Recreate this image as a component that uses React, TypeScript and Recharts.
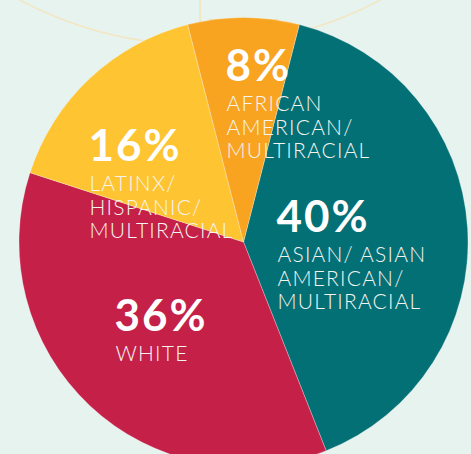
import React from 'react';
import { PieChart, Pie, Cell } from 'recharts';

const groups = ['ASIAN/ ASIAN AMERICAN/ MULTIRACIAL', 'WHITE', 'LATINX/ HISPANIC/ MULTIRACIAL', 'AFRICAN AMERICAN/ MULTIRACIAL'];
const percents = [40, 36, 16, 8];
const labelLines = [
  ['ASIAN/ ASIAN', 'AMERICAN/', 'MULTIRACIAL'],
  ['WHITE'],
  ['LATINX/', 'HISPANIC/', 'MULTIRACIAL'],
  ['AFRICAN', 'AMERICAN/', 'MULTIRACIAL'],
];
const colors = ['#037076', '#c52048', '#fec432', '#f8a420'];
const decoData = [{ v: 1 }, { v: 1 }];

// label layout: offset of the percent baseline relative to pie centre
const labelOffsets = [
  { dx: 33, dy: -10 },
  { dx: -129, dy: 89 },
  { dx: -155, dy: -81 },
  { dx: -18, dy: -161 },
];

const data = groups.map((g, i) => ({ name: g, value: percents[i] }));

const renderLabel = (props: any) => {
  const { cx, cy, index } = props;
  const off = labelOffsets[index];
  const x = cx + off.dx;
  const y = cy + off.dy;
  return (
    <g key={`lbl-${index}`}>
      <text x={x} y={y} fill="#ffffff" fontFamily="Lato, sans-serif" fontWeight={700} fontSize={44} letterSpacing={2}>
        {`${percents[index]}%`}
      </text>
      {labelLines[index].map((line, j) => (
        <text key={j} x={x + 1} y={y + 30 + j * 23.5} fill="#f4f4f0" fontFamily="Lato, sans-serif" fontWeight={300} fontSize={21} letterSpacing={1.2}>
          {line}
        </text>
      ))}
    </g>
  );
};

export default function App() {
  return (
    <div style={{ position: 'fixed', left: 0, top: 0, width: 471, height: 454, background: '#e6f3ef' }}>
      <PieChart width={471} height={454}>
        <Pie
          data={decoData}
          dataKey="v"
          cx={195}
          cy={-344}
          innerRadius={0}
          outerRadius={384}
          startAngle={-90}
          endAngle={270}
          fill="none"
          stroke="#f3e6c2"
          strokeWidth={1.5}
          isAnimationActive={false}
        />
        <Pie
          data={data}
          dataKey="value"
          cx={238.5}
          cy={237}
          outerRadius={224.5}
          startAngle={75.6}
          endAngle={-284.4}
          stroke="rgba(255,255,255,0.35)"
          strokeWidth={0.8}
          label={renderLabel}
          labelLine={false}
          isAnimationActive={false}
        >
          {data.map((d, i) => (
            <Cell key={d.name} fill={colors[i]} />
          ))}
        </Pie>
      </PieChart>
    </div>
  );
}
